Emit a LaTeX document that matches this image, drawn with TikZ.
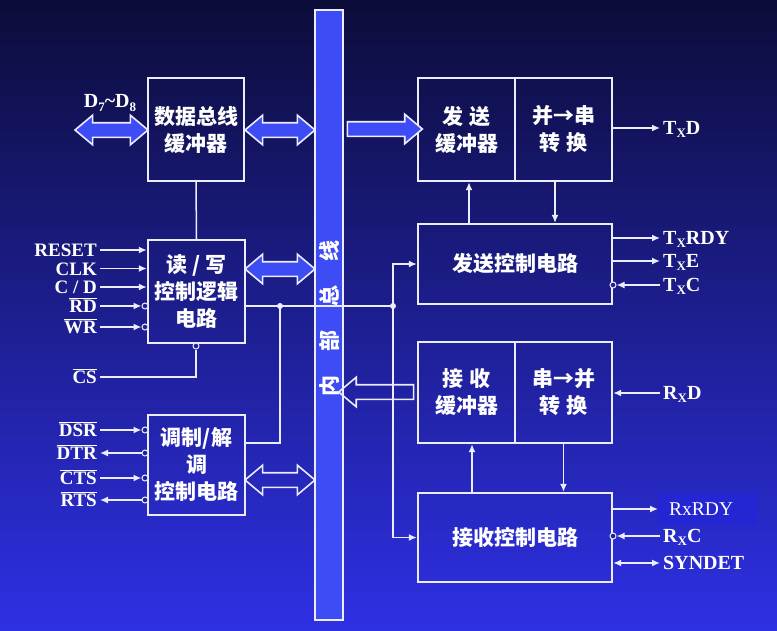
\documentclass[tikz,border=0pt]{standalone}
\usepackage{fontspec}
\setmainfont{Liberation Serif}
\newfontfamily\cjk{Noto Sans CJK SC}
\usetikzlibrary{arrows.meta,shapes.arrows}
\definecolor{bgtop}{RGB}{12,12,58}
\definecolor{bgmid}{RGB}{30,32,150}
\definecolor{bgbot}{RGB}{46,48,228}
\definecolor{busblue}{RGB}{62,76,245}
\definecolor{wline}{RGB}{236,236,255}
\definecolor{patch}{RGB}{36,38,212}
\newcommand\sbx[1]{\raisebox{-0.35ex}{\fontsize{13}{13}\selectfont #1}}
\newcommand\ovl[1]{$\overline{\mbox{#1}}$}
\tikzset{
  blk/.style={draw=wline, line width=2.4pt, inner sep=0pt, text=white, align=center,
    font=\cjk\bfseries\fontsize{21}{27}\selectfont},
  sig/.style={draw=wline, line width=1.5pt},
  tip/.style={-{Latex[length=8pt,width=7pt]}},
  pinl/.style={anchor=east, text=white, inner xsep=3pt, inner ysep=0pt, text height=13pt, text depth=0pt,
    font=\bfseries\fontsize{19}{19}\selectfont},
  pinr/.style={anchor=west, text=white, inner xsep=3pt, inner ysep=0pt, text height=13pt, text depth=0pt,
    font=\bfseries\fontsize{20}{20}\selectfont},
  inv/.style={circle, draw=wline, line width=1pt, fill=bgmid, minimum size=6pt, inner sep=0pt},
  fatboth/.style={double arrow, draw=wline, line width=1.6pt, inner xsep=0pt, inner ysep=6.5pt,
    double arrow head extend=7.5pt, double arrow tip angle=80},
  fatone/.style={single arrow, draw=wline, line width=1.6pt, inner xsep=0pt, inner ysep=6.5pt,
    single arrow head extend=7.5pt, single arrow tip angle=80}
}
\begin{document}
\begin{tikzpicture}[x=1pt,y=-1pt]
\shade[top color=bgtop, middle color=bgmid, bottom color=bgbot] (0,0) rectangle (777,630);
\useasboundingbox (0,0) rectangle (777,630);
\node[draw=wline, line width=1.2pt, fill=busblue, minimum width=28pt, minimum height=610pt, inner sep=0pt] (bus) at (329,315) {};
\node[rotate=90, text=white, font=\cjk\bfseries\fontsize{21}{21}\selectfont] (buslbl) at (329,318) {内\hspace{24pt}部\hspace{24pt}总\hspace{24pt}线};
\node[blk, minimum width=96pt, minimum height=103pt] (dbuf) at (196,129.5) {数据总线\\缓冲器};
\node[blk, minimum width=97pt, minimum height=103pt] (rwc) at (196.5,291.5) {读 / 写\\控制逻辑\\电路};
\node[blk, minimum width=97pt, minimum height=100pt] (modem) at (196.5,465) {调制/解\\调\\控制电路};
\node[blk, minimum width=97pt, minimum height=103pt] (txbuf) at (466.5,129.5) {发\hspace{6pt}送\\缓冲器};
\node[blk, minimum width=97pt, minimum height=103pt] (p2s) at (563.5,129.5) {并→串\\转\hspace{6pt}换};
\node[blk, minimum width=194pt, minimum height=80pt] (txc) at (515,264) {发送控制电路};
\node[blk, minimum width=97pt, minimum height=101pt] (rxbuf) at (466.5,392.5) {接\hspace{6pt}收\\缓冲器};
\node[blk, minimum width=97pt, minimum height=101pt] (s2p) at (563.5,392.5) {串→并\\转\hspace{6pt}换};
\node[blk, minimum width=194pt, minimum height=89pt] (rxc) at (515,537.5) {接收控制电路};
\node[fatboth, fill=busblue, minimum height=73pt] (dext) at (111.5,130) {};
\node[text=white, inner sep=0pt, font=\bfseries\fontsize{20}{20}\selectfont] (ldata) at (110,103) {D\sbx{7}\textasciitilde D\sbx{8}};
\node[fatboth, fill=busblue, minimum height=70pt] (dbusarr) at (280,130) {};
\node[fatboth, fill=busblue, minimum height=70pt] (rwbusarr) at (280,269) {};
\node[fatboth, minimum height=70pt] (mdbusarr) at (280,480) {};
\node[fatone, fill=busblue, minimum height=75pt] (txin) at (380.5,129) {};
\node[pinl] (lreset) at (100,250) {RESET};
\node[pinl] (lclk) at (100,268.5) {CLK};
\node[pinl] (lcd) at (100,287) {C / D};
\node[pinl] (lrd) at (100,306) {\ovl{RD}};
\node[pinl] (lwr) at (100,327) {\ovl{WR}};
\node[pinl] (lcs) at (100,377) {\ovl{CS}};
\node[inv] (rdc) at (145,306) {};
\node[inv] (wrc) at (145,327) {};
\node[inv] (csc) at (196,346) {};
\draw[sig,tip] (lreset.east) -- (lreset.east -| rwc.west);
\draw[sig,tip] (lclk.east) -- (lclk.east -| rwc.west);
\draw[sig,tip] (lcd.east) -- (lcd.east -| rwc.west);
\draw[sig,tip] (lrd.east) -- (rdc.west);
\draw[sig,tip] (lwr.east) -- (wrc.west);
\draw[sig] (lcs.east) -| (csc.south);
\node[pinl] (ldsr) at (100,430) {\ovl{DSR}};
\node[pinl] (ldtr) at (100,453) {\ovl{DTR}};
\node[pinl] (lcts) at (100,478) {\ovl{CTS}};
\node[pinl] (lrts) at (100,500) {\ovl{RTS}};
\node[inv] (dsrc) at (145,430) {};
\node[inv] (dtrc) at (145,453) {};
\node[inv] (ctsc) at (145,478) {};
\node[inv] (rtsc) at (145,500) {};
\draw[sig,tip] (ldsr.east) -- (dsrc.west);
\draw[sig,tip] (dtrc.west) -- (ldtr.east);
\draw[sig,tip] (lcts.east) -- (ctsc.west);
\draw[sig,tip] (rtsc.west) -- (lrts.east);
\draw[sig] (dbuf.south) -- (rwc.north);
\coordinate (j1) at (280,306);
\coordinate (j2) at (393,306);
\draw[sig] (rwc.east |- j1) -- (j2);
\draw[sig] ([yshift=22pt]modem.east) -| (j1);
\fill[wline] (j1) circle (3);
\fill[wline] (j2) circle (3);
\draw[sig,tip] (j2) |- (txc.west);
\draw[sig,tip] (j2) |- (rxc.west);
\node[fatone, shape border rotate=180, minimum height=75pt] (rxout) at (380.5,392) {};
\draw[sig,tip] ([xshift=2.5pt]txbuf.south |- txc.north) -- ([xshift=2.5pt]txbuf.south);
\draw[sig,tip] ([xshift=-8.5pt]p2s.south) -- ([xshift=-8.5pt]p2s.south |- txc.north);
\draw[sig,tip] ([xshift=5.5pt]rxbuf.south |- rxc.north) -- ([xshift=5.5pt]rxbuf.south);
\draw[sig,tip] (s2p.south) -- (s2p.south |- rxc.north);
\node[pinr] (rtxd) at (660,128) {T\sbx{X}D};
\node[pinr] (rtxrdy) at (660,238) {T\sbx{X}RDY};
\node[pinr] (rtxe) at (660,261) {T\sbx{X}E};
\node[pinr] (rtxc) at (660,285) {T\sbx{X}C};
\node[inv] (txcc) at (613,285) {};
\draw[sig,tip] (p2s.east |- rtxd.west) -- (rtxd.west);
\draw[sig,tip] (txc.east |- rtxrdy.west) -- (rtxrdy.west);
\draw[sig,tip] (txc.east |- rtxe.west) -- (rtxe.west);
\draw[sig,tip] (rtxc.west) -- (txcc.east);
\node[pinr] (rrxd) at (660,393) {R\sbx{X}D};
\draw[sig,tip] (rrxd.west) -- (rrxd.west -| s2p.east);
\node[anchor=west, fill=patch, text=white, text width=77pt, align=left, inner xsep=11pt, minimum height=32pt,
  font=\fontsize{19.5}{19.5}\selectfont] (rrxrdy) at (658,509) {RxRDY};
\node[pinr] (rrxc) at (660,536) {R\sbx{X}C};
\node[pinr] (rsyn) at (660,563) {SYNDET};
\node[inv] (rxcc) at (613,536) {};
\draw[sig,tip] (rxc.east |- rrxrdy.west) -- (rrxrdy.west);
\draw[sig,tip] (rrxc.west) -- (rxcc.east);
\draw[sig,{Latex[length=8pt,width=7pt]}-{Latex[length=8pt,width=7pt]}] (rxc.east |- rsyn.west) -- (rsyn.west);
\end{tikzpicture}
\end{document}
